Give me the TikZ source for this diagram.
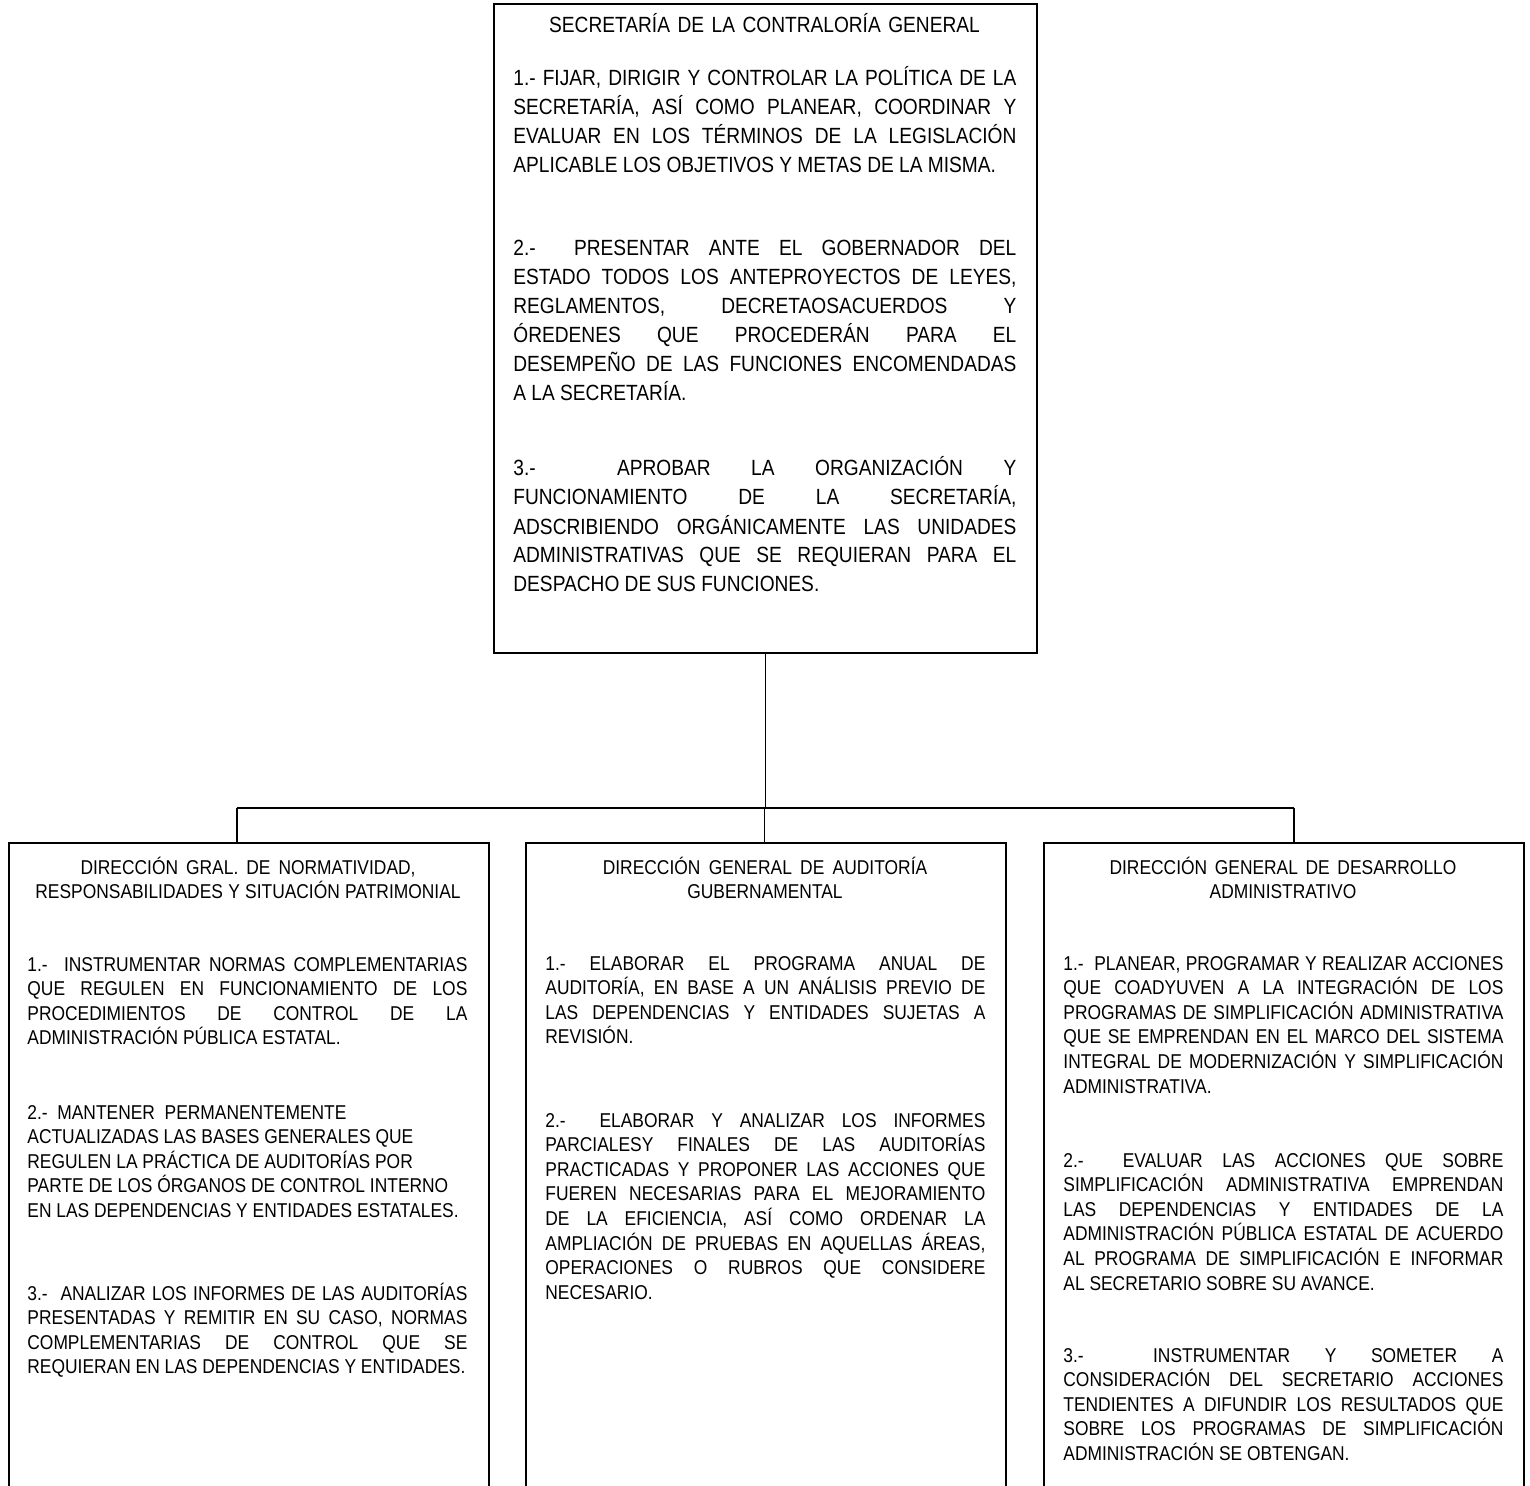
\documentclass[tikz,border=0pt]{standalone}
\usepackage{fontspec}
\setmainfont{Liberation Sans}[FakeStretch=0.87]
\usepackage{tikz}
\usetikzlibrary{positioning}
\newcommand{\natsp}{\spaceskip=0pt\xspaceskip=0pt\relax}
\newcommand{\jb}[1]{\leavevmode\hbox to251.5pt{\natsp #1}}
\newcommand{\js}[1]{\leavevmode\hbox to220pt{\natsp #1}}

\begin{document}
\begin{tikzpicture}[x=0.5pt,y=-0.5pt,
    box/.style={draw,line width=1pt,anchor=north west,inner sep=0pt,minimum width=240pt,minimum height=325pt},
    link/.style={line width=0.7pt},
    big/.style={font=\fontsize{11}{14.5}\selectfont},
    small/.style={font=\fontsize{10}{12.3}\selectfont},
    para/.style={anchor=base west,inner sep=0pt,text width=#1,align=left,execute at begin node=\natsp},
    head/.style={anchor=base,inner sep=0pt,text width=#1,align=center,execute at begin node=\natsp}]
  \useasboundingbox (0,0) rectangle (1530,1486);
  % boxes
  \node[box,minimum width=271.5pt,minimum height=324.5pt] (S) at (493,3) {};
  \node[box] (N) at (8,842) {};
  \node[box] (A) at (525,842) {};
  \node[box] (D) at (1043,842) {};
  % connectors
  \coordinate (j) at (764.5,808);
  \coordinate (jN) at (237,808);
  \coordinate (jD) at (1294,808);
  \draw[link] (S.south) -- (S.south |- j);
  \draw[link] (jN) -- (jD);
  \draw[link] (jN) -- (jN |- N.north);
  \draw[link] (j) -- (j |- A.north);
  \draw[link] (jD) -- (jD |- D.north);
  % secretaria
  \node[big,head=251.5pt] (S0) at (764.5,33) {SECRETARÍA DE LA CONTRALORÍA GENERAL};
  \node[big,para=251.5pt] (S1) at (513,86) {\jb{1.- FIJAR, DIRIGIR Y CONTROLAR LA POLÍTICA DE LA}\\
    \jb{SECRETARÍA, ASÍ COMO PLANEAR, COORDINAR Y}\\
    \jb{EVALUAR EN LOS TÉRMINOS DE LA LEGISLACIÓN}\\
    APLICABLE LOS OBJETIVOS Y METAS DE LA MISMA.};
  \node[big,para=251.5pt] (S2) at (513,256) {\jb{2.-\ \ PRESENTAR ANTE EL GOBERNADOR DEL}\\
    \jb{ESTADO TODOS LOS ANTEPROYECTOS DE LEYES,}\\
    \jb{REGLAMENTOS, DECRETAOSACUERDOS Y}\\
    \jb{ÓREDENES QUE PROCEDERÁN PARA EL}\\
    \jb{DESEMPEÑO DE LAS FUNCIONES ENCOMENDADAS}\\
    A LA SECRETARÍA.};
  \node[big,para=251.5pt] (S3) at (513,476) {\jb{3.-\ \ APROBAR LA ORGANIZACIÓN Y}\\
    \jb{FUNCIONAMIENTO DE LA SECRETARÍA,}\\
    \jb{ADSCRIBIENDO ORGÁNICAMENTE LAS UNIDADES}\\
    \jb{ADMINISTRATIVAS QUE SE REQUIERAN PARA EL}\\
    DESPACHO DE SUS FUNCIONES.};
  % normatividad
  \node[small,head=220pt] (N0) at (248,874) {DIRECCIÓN GRAL. DE NORMATIVIDAD,\\RESPONSABILIDADES Y SITUACIÓN PATRIMONIAL};
  \node[small,para=220pt] (N1) at (27,971) {\js{1.-\ \ INSTRUMENTAR NORMAS COMPLEMENTARIAS}\\
    \js{QUE REGULEN EN FUNCIONAMIENTO DE LOS}\\
    \js{PROCEDIMIENTOS DE CONTROL DE LA}\\
    ADMINISTRACIÓN PÚBLICA ESTATAL.};
  \node[small,para=220pt] (N2) at (27,1119) {2.-\ \ MANTENER\ \ PERMANENTEMENTE\\
    ACTUALIZADAS LAS BASES GENERALES QUE\\
    REGULEN LA PRÁCTICA DE AUDITORÍAS POR\\
    PARTE DE LOS ÓRGANOS DE CONTROL INTERNO\\
    EN LAS DEPENDENCIAS Y ENTIDADES ESTATALES.};
  \node[small,para=220pt] (N3) at (27,1300) {\js{3.-\ \ ANALIZAR LOS INFORMES DE LAS AUDITORÍAS}\\
    \js{PRESENTADAS Y REMITIR EN SU CASO, NORMAS}\\
    \js{COMPLEMENTARIAS DE CONTROL QUE SE}\\
    REQUIERAN EN LAS DEPENDENCIAS Y ENTIDADES.};
  % auditoria
  \node[small,head=220pt] (A0) at (765,874) {DIRECCIÓN GENERAL DE AUDITORÍA\\GUBERNAMENTAL};
  \node[small,para=220pt] (A1) at (545,970) {\js{1.- ELABORAR EL PROGRAMA ANUAL DE}\\
    \js{AUDITORÍA, EN BASE A UN ANÁLISIS PREVIO DE}\\
    \js{LAS DEPENDENCIAS Y ENTIDADES SUJETAS A}\\
    REVISIÓN.};
  \node[small,para=220pt] (A2) at (545,1127) {\js{2.-\ \ ELABORAR Y ANALIZAR LOS INFORMES}\\
    \js{PARCIALESY FINALES DE LAS AUDITORÍAS}\\
    \js{PRACTICADAS Y PROPONER LAS ACCIONES QUE}\\
    \js{FUEREN NECESARIAS PARA EL MEJORAMIENTO}\\
    \js{DE LA EFICIENCIA, ASÍ COMO ORDENAR LA}\\
    \js{AMPLIACIÓN DE PRUEBAS EN AQUELLAS ÁREAS,}\\
    \js{OPERACIONES O RUBROS QUE CONSIDERE}\\
    NECESARIO.};
  % desarrollo
  \node[small,head=220pt] (D0) at (1283,874) {DIRECCIÓN GENERAL DE DESARROLLO\\ADMINISTRATIVO};
  \node[small,para=220pt] (D1) at (1063,970) {\js{1.-\ \ PLANEAR, PROGRAMAR Y REALIZAR ACCIONES}\\
    \js{QUE COADYUVEN A LA INTEGRACIÓN DE LOS}\\
    \js{PROGRAMAS DE SIMPLIFICACIÓN ADMINISTRATIVA}\\
    \js{QUE SE EMPRENDAN EN EL MARCO DEL SISTEMA}\\
    \js{INTEGRAL DE MODERNIZACIÓN Y SIMPLIFICACIÓN}\\
    ADMINISTRATIVA.};
  \node[small,para=220pt] (D2) at (1063,1167) {\js{2.-\ \ EVALUAR LAS ACCIONES QUE SOBRE}\\
    \js{SIMPLIFICACIÓN ADMINISTRATIVA EMPRENDAN}\\
    \js{LAS DEPENDENCIAS Y ENTIDADES DE LA}\\
    \js{ADMINISTRACIÓN PÚBLICA ESTATAL DE ACUERDO}\\
    \js{AL PROGRAMA DE SIMPLIFICACIÓN E INFORMAR}\\
    AL SECRETARIO SOBRE SU AVANCE.};
  \node[small,para=220pt] (D3) at (1063,1362) {\js{3.-\ \ INSTRUMENTAR Y SOMETER A}\\
    \js{CONSIDERACIÓN DEL SECRETARIO ACCIONES}\\
    \js{TENDIENTES A DIFUNDIR LOS RESULTADOS QUE}\\
    \js{SOBRE LOS PROGRAMAS DE SIMPLIFICACIÓN}\\
    ADMINISTRACIÓN SE OBTENGAN.};
\end{tikzpicture}
\end{document}
